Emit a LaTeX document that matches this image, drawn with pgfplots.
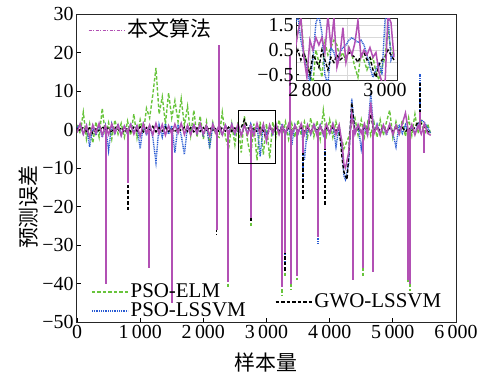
\documentclass[border=0pt]{standalone}
\usepackage{fontspec}
\setmainfont{Liberation Serif}
\newfontfamily\cjk{Noto Sans CJK SC}
\usepackage{pgfplots}
\pgfplotsset{compat=1.18}
\usepackage{pgfplotstable}

\definecolor{cG}{RGB}{104,196,60}
\definecolor{cB}{RGB}{40,90,210}
\definecolor{cP}{RGB}{178,80,180}

\pgfplotstableread{
x g b k p
0 1.2 0.5 0.3 -0.8
50 -1.0 1.3 -0.4 1.5
100 4.5 -1.2 0.6 -1.2
150 -2.5 1.0 -0.5 1.0
200 1.5 -4.5 0.4 -2.0
250 -3.5 0.8 -1.0 1.2
300 2.0 -1.5 0.5 -1.0
350 -2.0 1.2 -0.6 1.6
400 5.5 -2.0 0.8 -1.5
450 -1.5 1.0 -0.3 1.0
500 1.8 -5.5 0.5 -1.3
550 -2.5 1.5 -0.8 1.4
600 2.5 -1.0 0.7 -0.9
650 -1.2 1.4 -0.4 1.2
700 1.6 -1.5 0.5 -1.6
750 -2.0 1.0 -0.7 0.9
800 2.2 -1.2 0.4 -1.0
850 -1.5 1.6 -0.5 1.3
900 4.0 -1.0 0.6 -1.2
950 -2.2 1.1 -0.4 1.0
1000 2.5 -5.0 0.7 -1.8
1050 -1.0 1.3 -0.6 1.5
1100 5.5 -1.6 0.5 -1.0
1150 3.0 1.0 -0.3 1.2
1200 9.0 -2.0 0.8 -1.4
1250 16.0 -8.5 -0.6 1.6
1300 4.0 1.2 0.5 -1.1
1350 8.5 -2.0 -0.4 1.3
1400 1.5 1.5 0.6 -1.5
1450 9.5 -1.2 -0.5 1.0
1500 3.0 1.0 0.4 -1.2
1550 7.5 -6.0 -0.7 1.4
1600 2.0 1.3 0.5 -0.9
1650 8.0 -1.5 -0.4 1.6
1700 1.0 -6.5 0.6 -1.3
1750 6.0 1.0 -0.5 1.1
1800 -1.5 -1.2 0.5 -1.4
1850 5.0 1.4 -0.6 1.2
1900 -2.0 -1.0 0.4 -1.0
1950 3.5 1.2 -0.5 1.5
2000 -2.5 -1.5 0.5 -1.2
2050 2.0 1.0 -0.4 1.0
2100 -4.0 -5.0 0.6 -1.6
2150 1.8 1.3 -0.5 1.3
2200 -1.5 -1.0 0.5 -1.0
2250 -2.0 1.0 -0.6 1.2
2300 4.5 -1.5 0.5 -1.4
2350 -2.0 1.2 -0.4 1.1
2400 -5.0 -1.0 0.6 -1.5
2450 1.5 1.4 -0.5 1.3
2500 -4.0 -1.2 0.4 -1.0
2550 2.0 1.0 -0.5 1.4
2600 -6.0 -1.5 0.5 -1.6
2650 3.5 1.2 2.5 1.2
2700 -3.0 -1.0 0.6 -1.3
2750 -7.0 1.5 -0.5 1.0
2800 1.5 -1.0 0.4 -1.5
2850 -8.0 1.0 -0.6 1.6
2900 2.0 -7.0 0.5 -1.2
2950 -6.5 1.2 -0.4 1.4
3000 1.5 -1.5 -2.5 -3.0
3050 -7.5 1.0 0.5 1.2
3100 2.0 -1.2 -0.4 -1.0
3150 -2.0 1.3 0.6 1.5
3200 2.5 -1.0 -0.5 -1.3
3250 -1.5 1.5 0.4 1.0
3300 2.0 -1.5 -0.6 -1.2
3350 -2.5 1.0 0.5 1.4
3400 1.5 -4.0 -0.4 -1.5
3450 -2.0 1.2 0.6 1.1
3500 2.5 -1.0 -0.5 -1.0
3550 -1.5 1.4 0.5 1.5
3600 2.0 -8.0 -0.6 -1.4
3650 -2.0 1.0 0.4 1.2
3700 3.0 -1.3 -0.5 -1.1
3750 -1.8 1.5 0.6 1.3
3800 2.2 -1.0 -0.4 -1.6
3850 -2.5 1.2 0.5 1.0
3900 5.0 -1.5 -0.6 -1.2
3950 -1.5 1.0 0.4 1.4
4000 2.5 -1.2 -0.5 -1.0
4050 -2.0 1.3 0.6 1.5
4100 2.0 -4.5 -0.4 -1.3
4150 -1.5 1.0 0.5 1.2
4200 -3.0 -6.0 -8.0 -4.0
4225 -5.0 -12.0 -11.0 -9.0
4250 -4.0 -13.0 -12.0 -10.0
4275 -3.0 -11.0 -13.0 -8.0
4300 -2.0 -9.0 -7.0 -6.0
4350 1.5 8.0 7.0 4.0
4400 3.0 -1.0 -0.5 -1.2
4450 -1.5 1.2 0.4 1.3
4500 2.5 -5.0 -0.5 -1.0
4550 -2.0 1.0 0.6 1.5
4600 1.8 -1.5 -0.4 -1.4
4650 -1.5 9.5 4.0 7.0
4700 2.0 -1.0 -0.5 -1.2
4750 -2.0 1.4 0.5 1.0
4800 2.5 -1.2 -0.4 -1.5
4850 -1.5 1.0 0.6 1.2
4900 2.0 -1.5 -0.5 -1.0
4950 5.0 1.2 0.4 1.4
5000 -2.0 -1.0 -0.6 -1.3
5050 2.0 -4.5 0.5 1.1
5100 -1.5 1.3 -0.4 -1.2
5150 2.5 -1.0 0.5 1.5
5200 -1.8 1.2 -0.6 4.3
5250 3.0 -1.5 0.4 -1.0
5300 -1.5 1.0 -0.5 1.3
5350 4.0 -1.2 0.6 -1.4
5400 -1.0 1.5 2.0 1.0
5450 2.0 2.5 1.5 -1.2
5500 -1.5 1.8 0.8 1.5
5550 1.5 0.5 -0.5 -1.0
5600 -1.2 -1.0 -0.8 -1.5
}\maindata

\pgfplotstableread{
x y
805 -10
2210 -3
2250 9
2390 -41
2755 -25
3245 -43
3290 -38.5
3390 -41.5
3480 -39
3580 -6
3815 -10
4530 -38
5240 -40
5270 -42
5430 4
}\gspk

\pgfplotstableread{
x y
805 -14
2210 -5
2390 -39
2755 -23
3245 -40
3290 -35
3390 -39
3480 -37
3580 -14
3815 -29.5
3920 -8
4530 -35
5240 -38
5270 -39
5430 14.5
}\bspk

\pgfplotstableread{
x y
805 -21
2210 -27.5
2250 6
2390 -38
2755 -24
3245 -40
3290 -37
3390 -40
3480 -37.5
3580 -18
3815 -27
3920 -20
4530 -34
5240 -39
5270 -40
5430 12
}\kspk

\pgfplotstableread{
x y
455 -40
805 -14
1140 -36
1505 -45
2210 -26
2250 22
2390 -39.5
2755 -23
3245 -41
3290 -32
3370 19
3390 -40
3480 -38
3580 -6
3815 -28
3920 -5
4370 -39
4530 -36
4690 -37
5240 -39
5270 -40
5430 4.5
5500 -6
}\pspk

\pgfplotstableread{
x g b k p
2760 0.5 1.5 0.2 0.4
2768 1.2 1.9 0.5 1.2
2776 1.8 0.9 0.1 1.8
2784 0.4 0.3 0.4 0.2
2792 0.0 -0.3 0.0 -0.6
2800 -0.4 -0.8 -0.5 0.9
2808 -0.9 0.1 0.3 0.5
2816 0.5 1.6 0.1 1.0
2824 0.0 1.9 -0.2 0.7
2832 -0.6 1.2 0.5 1.0
2840 0.8 -0.5 0.1 0.4
2848 0.3 -0.9 -0.3 1.9
2856 0.6 0.6 0.2 0.6
2864 0.9 0.4 0.0 1.8
2872 0.7 0.0 0.3 -0.2
2880 0.2 0.4 0.1 0.3
2888 0.4 0.6 0.2 1.4
2896 0.0 0.7 0.2 0.0
2904 0.6 0.9 0.4 0.6
2912 0.3 1.0 0.3 0.3
2920 -0.2 0.9 0.2 0.8
2928 -0.6 0.8 0.0 1.7
2936 0.4 0.9 0.3 0.2
2944 0.1 0.7 0.4 0.5
2952 -0.3 0.3 0.1 0.3
2960 0.0 -0.2 0.2 0.6
2968 0.2 -0.6 -0.3 0.2
2976 -0.4 -0.3 -0.6 0.4
2984 -0.7 0.0 -0.1 -0.4
2992 -0.2 -0.5 0.1 -0.8
3000 0.2 1.7 0.2 -0.9
3008 1.3 1.9 0.5 1.9
3016 0.5 0.1 0.3 1.6
3024 0.3 0.4 0.1 0.2
}\insetdata

\tikzset{
  sG/.style={cG, line width=1.4bp, dash pattern=on 3.5bp off 2bp},
  sB/.style={cB, line width=1.4bp, dash pattern=on 1bp off 0.8bp},
  sK/.style={black, line width=1.4bp, dash pattern=on 3.5bp off 2bp},
  sP/.style={cP, line width=1.5bp},
}

\pgfplotsset{
  legbase/.style={
    at={(0,0)}, anchor=south west,
    scale only axis, width=379bp, height=308bp,
    hide axis, xmin=0, xmax=1, ymin=0, ymax=1,
    legend cell align=left,
    legend image code/.code={\draw[##1] (0bp,0bp) -- (36bp,0bp);},
    legend style={draw=none, fill=none, inner sep=0pt, row sep=0bp,
      font=\fontsize{21}{23}\selectfont,
      nodes={inner xsep=2bp, inner ysep=0pt, text height=15bp, text depth=4bp}},
  },
}

\begin{document}
\begin{tikzpicture}
\begin{axis}[
  at={(0,0)}, anchor=south west,
  scale only axis, width=379bp, height=308bp,
  xmin=0, xmax=6000, ymin=-50, ymax=30,
  xtick={0,1000,...,6000},
  xticklabels={0,1\,000,2\,000,3\,000,4\,000,5\,000,6\,000},
  ytick={-50,-40,...,30},
  yticklabels={−50,−40,−30,−20,−10,0,10,20,30},
  tick align=inside, xtick pos=bottom, ytick pos=left,
  major tick length=4bp,
  axis line style={line width=1bp, black!85},
  tick style={line width=0.8bp, black},
  tick label style={font=\fontsize{20}{22}\selectfont},
  xlabel={\cjk 样本量}, ylabel={\cjk 预测误差},
  every axis x label/.style={at={(axis description cs:0.499,-0.133)}, anchor=center, font=\fontsize{21}{23}\selectfont},
  every axis y label/.style={at={(axis description cs:-0.129,0.373)}, rotate=90, anchor=center, font=\fontsize{21}{23}\selectfont},
]
\addplot[sG, forget plot] table[x=x, y=g]{\maindata};
\addplot[sG, line width=1.8bp, ycomb, forget plot] table[x=x, y=y]{\gspk};
\addplot[sB, forget plot] table[x=x, y=b]{\maindata};
\addplot[sB, line width=1.8bp, ycomb, forget plot] table[x=x, y=y]{\bspk};
\addplot[sK, forget plot] table[x=x, y=k]{\maindata};
\addplot[sK, line width=1.8bp, ycomb, forget plot] table[x=x, y=y]{\kspk};
\addplot[sP, forget plot] table[x=x, y=p]{\maindata};
\addplot[sP, line width=2bp, ycomb, forget plot] table[x=x, y=y]{\pspk};
\draw[line width=0.9bp, black] (axis cs:2550,-8.7) rectangle (axis cs:3135,5);
\end{axis}

% legend: top left
\begin{axis}[legbase, legend style={at={(0.029,0.945)}, anchor=west}]
\addlegendimage{cP, line width=1.1bp, dash pattern=on 3bp off 1.5bp on 1bp off 1.5bp}
\addlegendentry{\cjk 本文算法}
\end{axis}
% legend: bottom left
\begin{axis}[legbase, legend style={at={(0.037,0.0666)}, anchor=west}]
\addlegendimage{sG}
\addlegendentry{PSO-ELM}
\addlegendimage{sB}
\addlegendentry{PSO-LSSVM}
\end{axis}
% legend: bottom right
\begin{axis}[legbase, legend style={at={(0.522,0.065)}, anchor=west}]
\addlegendimage{sK}
\addlegendentry{GWO-LSSVM}
\end{axis}

% inset
\begin{axis}[
  at={(219bp,241bp)}, anchor=south west,
  scale only axis, width=101bp, height=62bp,
  xmin=2763, xmax=3032, ymin=-0.75, ymax=1.75,
  xtick={2800,3000}, xticklabels={2\,800,3\,000},
  ytick={-0.5,0.5,1.5}, yticklabels={−0.5,0.5,1.5},
  minor ytick={0,1}, minor xtick={2900},
  grid=both, grid style={gray!30, line width=0.4bp},
  tick align=inside, xtick pos=bottom, ytick pos=left,
  major tick length=3bp, minor tick length=0pt,
  axis line style={line width=1bp, black!85},
  tick style={line width=0.7bp, black},
  tick label style={font=\fontsize{20}{22}\selectfont},
  xticklabel style={yshift=1bp},
  yticklabel style={xshift=1bp},
  axis background/.style={fill=white},
]
\addplot[sG] table[x=x, y=g]{\insetdata};
\addplot[sB] table[x=x, y=b]{\insetdata};
\addplot[sK] table[x=x, y=k]{\insetdata};
\addplot[sP] table[x=x, y=p]{\insetdata};
\end{axis}
\pgfresetboundingbox
\path[use as bounding box] (-77bp,-54bp) rectangle (412bp,322bp);
\end{tikzpicture}
\end{document}
